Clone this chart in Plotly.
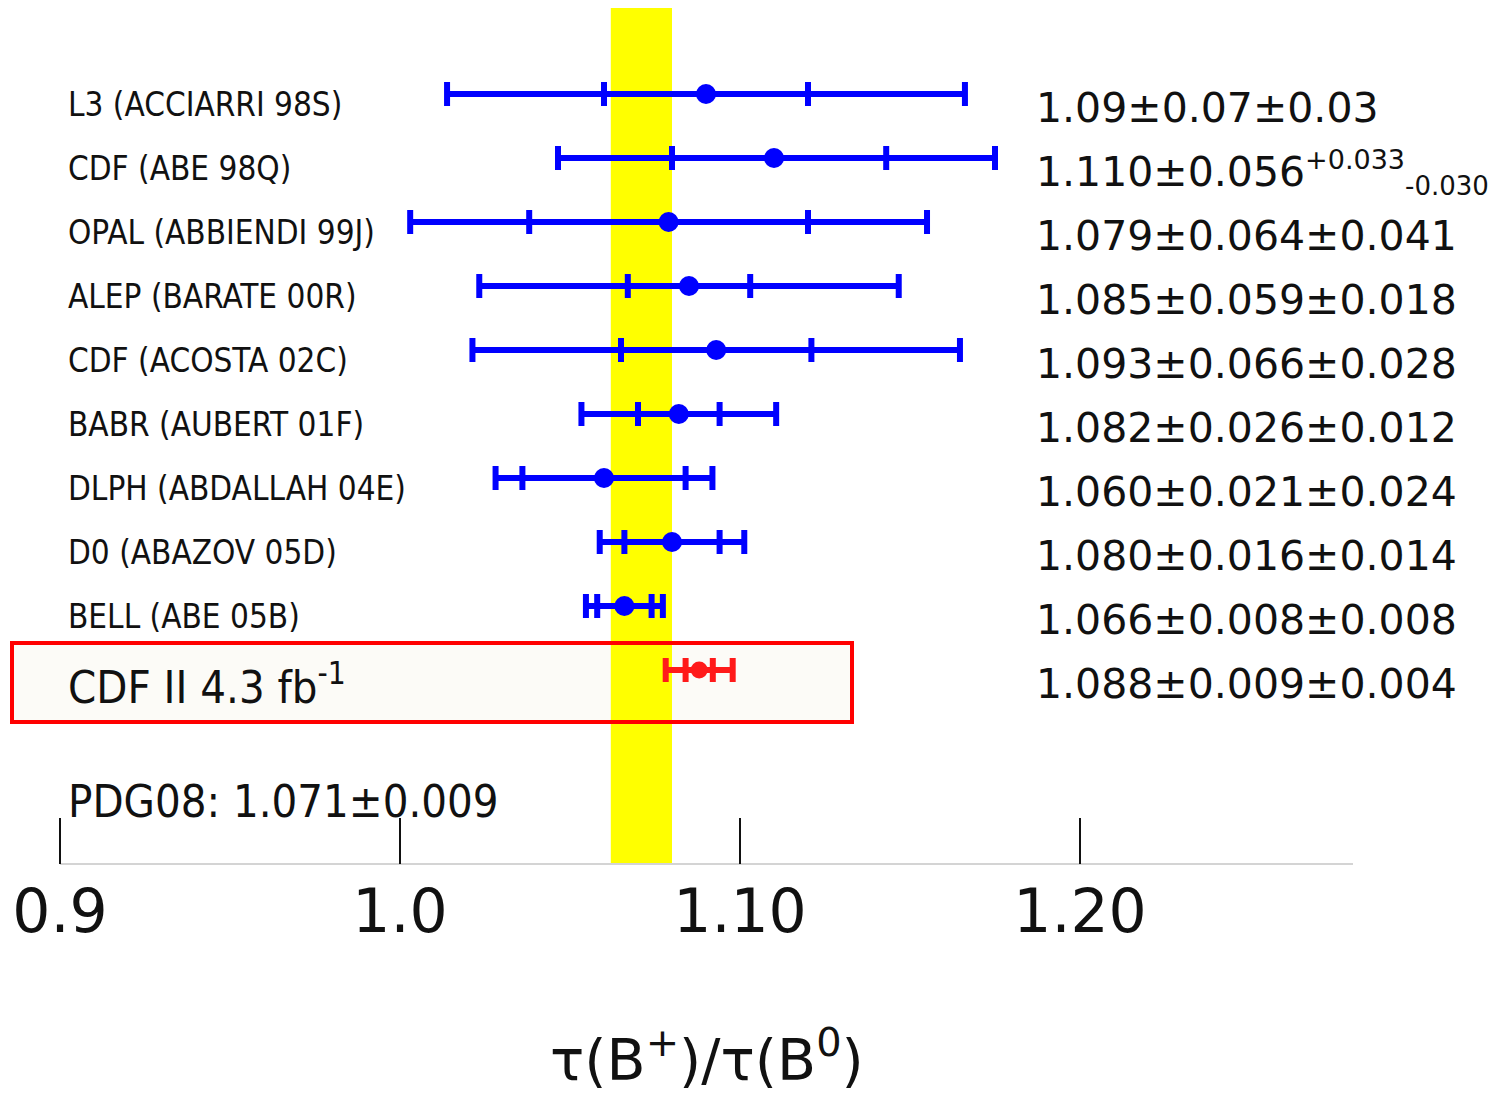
import numpy as np
import plotly.graph_objects as go

# ---------------- data ----------------
experiments = [
    "L3 (ACCIARRI 98S)", "CDF (ABE 98Q)", "OPAL (ABBIENDI 99J)", "ALEP (BARATE 00R)",
    "CDF (ACOSTA 02C)", "BABR (AUBERT 01F)", "DLPH (ABDALLAH 04E)", "D0 (ABAZOV 05D)",
    "BELL (ABE 05B)", "CDF II 4.3 fb<sup>-1</sup>",
]
values = [1.09, 1.110, 1.079, 1.085, 1.093, 1.082, 1.060, 1.080, 1.066, 1.088]
stat = [0.07, 0.056, 0.064, 0.059, 0.066, 0.026, 0.021, 0.016, 0.008, 0.009]
sys_plus = [0.03, 0.033, 0.041, 0.018, 0.028, 0.012, 0.024, 0.014, 0.008, 0.004]
sys_minus = [0.03, 0.030, 0.041, 0.018, 0.028, 0.012, 0.024, 0.014, 0.008, 0.004]
value_labels = [
    "1.09±0.07±0.03",
    "1.110±0.056<sup><span style='font-size:27px'>+0.033</span></sup>"
    "<sub><span style='font-size:26px'>-0.030</span></sub>",
    "1.079±0.064±0.041",
    "1.085±0.059±0.018",
    "1.093±0.066±0.028",
    "1.082±0.026±0.012",
    "1.060±0.021±0.024",
    "1.080±0.016±0.014",
    "1.066±0.008±0.008",
    "1.088±0.009±0.004",
]
pdg_value = 1.071
pdg_error = 0.009
pdg_label = "PDG08: 1.071±0.009"
tick_values = [0.9, 1.0, 1.1, 1.2]
tick_labels = ["0.9", "1.0", "1.10", "1.20"]
axis_title = "τ(B<sup>+</sup>)/τ(B<sup>0</sup>)"

# ---------------- styling / geometry ----------------
W, H = 1503, 1093
BLUE = "#0000ff"
RED = "#ff1a1a"
COND = "DejaVu Sans Condensed, DejaVu Sans"
NORM = "DejaVu Sans"

x_axis_px = 864            # pixel row of the x axis
row0_px, row_step = 94, 64  # first row pixel and spacing
px_per_unit = 3400.0
x_ref_px, x_ref_val = 400.0, 1.0
x_range = [x_ref_val - x_ref_px / px_per_unit, x_ref_val + (W - x_ref_px) / px_per_unit]
y_range = [(x_axis_px - row0_px) / row_step, -row0_px / row_step]

n = len(values)
rows = list(range(n))
v = np.array(values)
st = np.array(stat)
sp = np.array(sys_plus)
sm = np.array(sys_minus)
tot_p = np.sqrt(st ** 2 + sp ** 2)
tot_m = np.sqrt(st ** 2 + sm ** 2)

fig = go.Figure()

groups = [(list(range(0, n - 1)), BLUE, 20), ([n - 1], RED, 17)]
for idx, col, msize in groups:
    xs = v[idx]
    ys = [rows[i] for i in idx]
    fig.add_trace(go.Scatter(
        x=xs, y=ys, mode="markers",
        marker=dict(size=1, color="rgba(0,0,0,0)"),
        error_x=dict(type="data", symmetric=False, array=tot_p[idx], arrayminus=tot_m[idx],
                     color=col, thickness=6, width=12),
        hoverinfo="skip", showlegend=False,
    ))
    fig.add_trace(go.Scatter(
        x=xs, y=ys, mode="markers",
        marker=dict(size=msize, color=col),
        error_x=dict(type="data", symmetric=False, array=sp[idx], arrayminus=sm[idx],
                     color=col, thickness=6, width=12),
        showlegend=False,
    ))

shapes = []
# highlight box (fill)
bx0, bx1, by0, by1 = 12, 852, 643, 722
shapes.append(dict(type="rect", xref="paper", yref="paper",
                   x0=bx0 / W, x1=bx1 / W, y0=1 - by1 / H, y1=1 - by0 / H,
                   fillcolor="#fcfbf7", line=dict(width=0), layer="below"))
# PDG band
shapes.append(dict(type="rect", xref="x", yref="paper",
                   x0=pdg_value - pdg_error, x1=pdg_value + pdg_error,
                   y0=1 - x_axis_px / H, y1=1 - 8 / H,
                   fillcolor="#ffff00", line=dict(width=0), layer="below"))
# highlight box border
shapes.append(dict(type="rect", xref="paper", yref="paper",
                   x0=bx0 / W, x1=bx1 / W, y0=1 - by1 / H, y1=1 - by0 / H,
                   fillcolor="rgba(0,0,0,0)", line=dict(width=4, color="#ff0000"), layer="below"))
# axis baseline
shapes.append(dict(type="line", xref="x", yref="paper",
                   x0=tick_values[0], x1=x_ref_val + (1353 - x_ref_px) / px_per_unit,
                   y0=1 - x_axis_px / H, y1=1 - x_axis_px / H,
                   line=dict(width=2, color="#d4d4d4"), layer="below"))

annotations = []
for i, name in enumerate(experiments):
    last = i == n - 1
    annotations.append(dict(
        x=66 / W, xref="paper", y=rows[i], yref="y", xanchor="left", yanchor="middle",
        text=name, showarrow=False, yshift=-14 if last else -10,
        font=dict(family=COND, size=45 if last else 33, color="#111111"),
    ))
    annotations.append(dict(
        x=1034 / W, xref="paper", y=rows[i], yref="y", xanchor="left", yanchor="middle",
        text=value_labels[i], showarrow=False, yshift=-14,
        font=dict(family=NORM, size=41, color="#111111"),
    ))
annotations.append(dict(
    x=66 / W, xref="paper", y=1 - 801 / H, yref="paper", xanchor="left", yanchor="middle",
    text=pdg_label, showarrow=False, font=dict(family=COND, size=45, color="#111111"),
))
annotations.append(dict(
    x=707 / W, xref="paper", y=1 - 1056 / H, yref="paper", xanchor="center", yanchor="middle",
    text=axis_title, showarrow=False, font=dict(family=NORM, size=57, color="#111111"),
))

fig.update_layout(
    width=W, height=H,
    margin=dict(l=0, r=0, t=0, b=0),
    paper_bgcolor="white", plot_bgcolor="white",
    shapes=shapes, annotations=annotations,
    xaxis=dict(range=x_range, showgrid=False, zeroline=False, showline=False,
               tickmode="array", tickvals=tick_values, ticktext=tick_labels,
               ticks="inside", ticklen=46, tickwidth=2, tickcolor="#111111",
               tickfont=dict(family=NORM, size=60, color="#111111"),
               ticklabelstandoff=7,
               fixedrange=True),
    yaxis=dict(range=y_range, domain=[1 - x_axis_px / H, 1], visible=False, fixedrange=True),
)

fig.write_html("out.html")
